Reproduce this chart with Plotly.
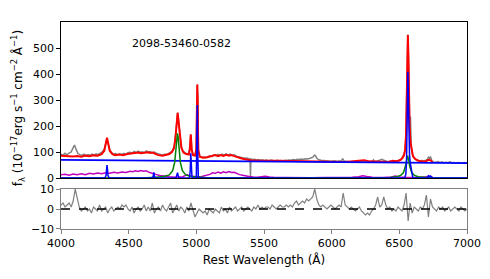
import plotly.graph_objects as go

# ---------------- data ----------------
data_wave = [4000,4015,4030,4045,4060,4075,4088,4100,4112,4125,4140,4155,4170,4185,4200,4215,4230,4245,4260,4275,
             4290,4305,4320,4332,4340,4348,4360,4375,4390,4405,4420,4435,4450,4465,4480,4495,4510,4525,4540,4555,
             4570,4585,4600,4615,4630,4645,4660,4675,4690,4705,4720,4735,4750,4765,4780,4795,4810,4825,4838,4848,
             4856,4862,4868,4876,4886,4898,4912,4925,4940,4950,4959,4966,4975,4988,4998,5003,5007,5011,5016,5028,
             5042,5056,5070,5085,5100,5115,5130,5145,5160,5175,5190,5205,5220,5235,5250,5265,5280,5295,5310,5325,
             5340,5355,5370,5385,5397,5400,5403,5415,5430,5445,5460,5475,5490,5505,5520,5535,5550,5565,5580,5595,
             5610,5625,5640,5655,5670,5685,5700,5715,5730,5745,5760,5775,5790,5805,5820,5835,5850,5862,5872,5880,
             5890,5905,5920,5935,5950,5965,5980,5995,6010,6025,6040,6055,6070,6082,6092,6105,6120,6135,6150,6165,
             6180,6195,6210,6225,6240,6255,6270,6285,6300,6308,6316,6330,6345,6360,6372,6385,6400,6415,6430,6445,
             6460,6475,6490,6505,6518,6530,6540,6548,6554,6559,6563,6567,6571,6576,6582,6588,6595,6605,6620,6635,
             6650,6665,6680,6695,6708,6716,6724,6731,6740,6755,6770,6785,6800,6815,6830,6845,6860,6875,6890,6905,
             6920,6935,6950,6965,6980,7000]
data_flux = [92,88,95,89,96,100,115,127,110,94,90,87,92,86,90,87,92,88,93,90,
             96,100,112,138,152,132,108,97,92,94,89,93,91,95,92,97,99,96,102,98,
             103,99,101,97,104,100,102,97,100,95,92,90,88,91,90,95,99,107,125,175,
             230,252,228,170,128,105,98,94,92,112,165,112,90,86,100,290,355,290,100,82,
             79,81,78,82,85,83,89,87,91,86,92,88,93,89,92,87,89,84,82,80,
             78,76,77,74,73,6,73,71,72,69,71,68,70,67,69,66,69,67,65,68,
             66,67,65,68,67,69,68,71,69,72,71,73,71,74,73,75,77,80,88,86,
             76,70,68,67,66,65,66,64,65,66,64,65,66,73,66,64,63,64,62,63,
             64,62,63,62,61,60,61,62,64,70,63,64,66,68,72,68,65,63,64,62,
             65,64,66,68,74,85,100,150,290,480,552,470,330,215,236,120,95,80,72,68,
             66,67,65,68,72,82,76,80,66,62,61,63,60,62,59,61,60,62,59,60,
             58,60,59,58,60,58]

model_wave = [4000,4030,4060,4090,4120,4150,4180,4210,4240,4270,4300,4320,4332,4340,4348,4360,4380,4400,4430,4460,
              4490,4520,4550,4570,4590,4610,4640,4660,4680,4700,4720,4750,4780,4800,4820,4835,4845,4855,4862,4869,
              4880,4890,4905,4925,4945,4952,4959,4966,4975,4990,5000,5004,5007,5010,5014,5025,5050,5080,5100,5120,
              5140,5160,5180,5200,5220,5240,5260,5280,5300,5330,5360,5400,5450,5500,5550,5600,5700,5800,5900,6000,
              6100,6200,6240,6280,6350,6420,6450,6480,6510,6525,6535,6543,6550,6555,6559,6563,6567,6571,6576,6582,
              6590,6600,6615,6635,6660,6690,6716,6731,6745]
model_flux = [86,85,84,83,85,82,86,84,87,86,92,105,135,155,135,105,92,88,90,88,
              92,94,96,98,95,97,99,96,98,92,88,86,88,92,100,115,150,215,251,215,
              150,115,98,92,90,110,168,110,88,86,110,300,360,300,110,82,78,80,82,86,
              88,84,88,85,89,86,88,84,80,76,72,68,67,67,68,66,65,64,64,63,
              62,66,68,64,62,62,66,64,70,78,88,110,170,300,470,550,470,330,200,140,
              105,85,74,67,64,63,70,68,61]

cont_wave = [4000,4500,5000,5500,6000,6500,7000]
cont_flux = [70,68,66,63.5,61.5,59.5,57.5]

feii_wave = [4000,4030,4060,4090,4120,4150,4180,4210,4240,4270,4300,4330,4360,4390,4420,4450,4480,4510,4530,4550,
             4570,4590,4610,4630,4650,4670,4700,4730,4760,4800,4850,4900,4920,4935,4950,4980,5010,5040,5070,5100,
             5120,5140,5160,5180,5200,5220,5240,5260,5280,5300,5320,5340,5360,5390,5420,5450,5480,5510,5540,5580,
             5650,5750,5850,5950,6050,6150,6200,6230,6260,6300,6380,6440,6470,6500,6560,6650,6700,6720,6745]
feii_flux = [12,14,11,15,13,16,13,18,15,19,16,20,18,22,19,23,21,26,24,28,
             25,29,26,28,22,18,14,10,7,5,3,5,10,12,8,6,5,6,9,14,
             20,18,23,19,24,20,25,21,22,16,13,11,8,6,4,3,5,7,4,2,
             2,1,1,2,2,3,5,9,6,3,2,4,8,4,2,2,5,8,3]

broad_wave = [4000,4600,4700,4760,4800,4825,4840,4850,4856,4861,4866,4872,4882,4897,4922,4960,5020,5100,
              6430,6480,6510,6530,6545,6553,6561,6569,6577,6592,6612,6640,6690,6740,7000]
broad_flux = [0,0,3,6,12,28,60,110,155,172,155,110,60,28,12,6,3,0,
              2,5,10,20,45,70,86,70,45,20,10,5,2,0,0]

narrow_wave = [4000,4325,4333,4337,4340,4343,4347,4355,4675,4682,4686,4690,4697,4850,4856,4861,4866,4872,
               4950,4955,4959,4963,4968,5000,5003,5007,5011,5015,
               6540,6548,6553,6557,6560,6563,6566,6570,6575,6580,6585,6592,6600,
               6705,6712,6716,6721,6726,6731,6736,6745,7000]
narrow_flux = [0,0,10,35,50,35,10,0,0,8,22,8,0,0,10,20,10,0,
               0,30,95,30,0,0,80,281,80,0,
               0,15,60,200,340,409,340,200,90,60,40,10,0,
               0,4,8,4,4,7,3,0,0]

resid_wave = [4000 + 15 * i for i in range(201)]
resid_vals = [2,3,1,2,3,1,4,10,5,1,
              -1,0,1,-1,0,-2,1,0,-1,2,
              -1,0,1,-2,0,1,-1,0,1,0,
              2,1,2,0,-1,1,-2,0,1,-1,
              0,2,-1,1,-1,3,-2,0,1,-1,
              2,0,-1,1,3,-2,0,2,-1,1,
              0,-2,1,-1,3,-1,-4,-2,0,-1,
              -2,-1,-3,0,-1,-2,0,-1,-2,1,
              -1,0,-2,1,-1,0,1,-1,0,1,
              -1,0,1,0,-1,1,0,2,0,1,
              0,1,1,0,2,1,0,1,2,1,
              1,2,1,2,1,3,4,2,3,4,
              3,5,4,5,6,10,5,2,1,2,
              1,0,1,2,1,0,1,2,1,8,
              2,1,0,1,0,-1,0,1,-1,-2,
              -3,-2,-3,-1,0,2,6,1,2,6,
              2,0,1,-1,0,-1,1,0,-1,2,
              8,-6,3,-2,1,0,-1,1,0,2,
              7,-4,5,1,0,-1,1,0,1,-1,
              0,1,-1,0,1,0,-1,1,0,-1,
              0]

x_ticks = [4000, 4500, 5000, 5500, 6000, 6500, 7000]
top_ticks = [0, 100, 200, 300, 400, 500]
bot_ticks = [-10, 0, 10]
label_id = "2098-53460-0582"

# ---------------- figure ----------------
FONT = "DejaVu Sans"
fig = go.Figure()

def top(x, y, color, width, name):
    fig.add_trace(go.Scatter(x=x, y=y, mode="lines", line=dict(color=color, width=width),
                             xaxis="x2", yaxis="y2", name=name, showlegend=False, hoverinfo="skip"))

top(data_wave, data_flux, "#808080", 1.5, "data")
top(model_wave, model_flux, "#ff0000", 2.0, "model")
top(cont_wave, cont_flux, "#0000ff", 1.8, "continuum")
top(feii_wave, feii_flux, "#bf00bf", 1.5, "FeII")
top(broad_wave, broad_flux, "#008000", 1.5, "broad")
top(narrow_wave, narrow_flux, "#0000ff", 1.5, "narrow")

fig.add_trace(go.Scatter(x=resid_wave, y=resid_vals, mode="lines",
                         line=dict(color="#808080", width=1.2), xaxis="x", yaxis="y",
                         showlegend=False, hoverinfo="skip"))
fig.add_trace(go.Scatter(x=[x_ticks[0], x_ticks[-1]], y=[0, 0], mode="lines",
                         line=dict(color="black", width=1.3, dash="dash"), xaxis="x", yaxis="y",
                         showlegend=False, hoverinfo="skip"))

axis_common = dict(showline=True, mirror=True, ticks="outside", ticklen=3.5, tickwidth=1,
                   showgrid=False, zeroline=False, automargin=False,
                   tickfont=dict(family=FONT, size=11, color="black"))

fig.update_layout(
    width=490, height=279,
    margin=dict(l=61, r=23, t=22, b=50),
    paper_bgcolor="white", plot_bgcolor="white",
    font=dict(family=FONT, color="black"),
    hovermode=False,
    xaxis=dict(domain=[0, 1], range=[4000, 7000], tickvals=x_ticks, anchor="y",
               linecolor="#808080", tickcolor="#808080", linewidth=1.2,
               title=dict(text="Rest Wavelength (Å)", font=dict(family=FONT, size=12), standoff=6),
               **axis_common),
    yaxis=dict(domain=[0, 0.1932], range=[-10, 10], tickvals=bot_ticks, anchor="x",
               linecolor="#808080", tickcolor="#808080", linewidth=1.2,
               ticktext=["\u221210", "0", "10"], **axis_common),
    xaxis2=dict(domain=[0, 1], range=[4000, 7000], anchor="y2", matches="x",
                showticklabels=False, linecolor="black", linewidth=1.2, automargin=False,
                showline=True, mirror=True, ticks="", showgrid=False, zeroline=False),
    yaxis2=dict(domain=[0.2464, 1], range=[0, 600], tickvals=top_ticks, anchor="x2",
                linecolor="black", tickcolor="black", linewidth=1.2, **axis_common),
)

fig.add_annotation(x=4887, y=519, xref="x2", yref="y2", text=label_id, showarrow=False,
                   font=dict(family=FONT, size=11, color="black"))
fig.add_annotation(x=-0.105, y=0.585, xref="paper", yref="paper", textangle=-90,
                   text="f<sub>\u03bb</sub> (10<sup>\u221217</sup>erg s<sup>\u22121</sup> cm<sup>\u22122</sup> \u00c5<sup>\u22121</sup>)",
                   showarrow=False, xanchor="center", yanchor="middle",
                   font=dict(family=FONT, size=12, color="black"))

fig.write_html("out.html", config={"displayModeBar": False, "staticPlot": True},
               post_script="document.body.style.margin='0';document.body.style.overflow='hidden';")
